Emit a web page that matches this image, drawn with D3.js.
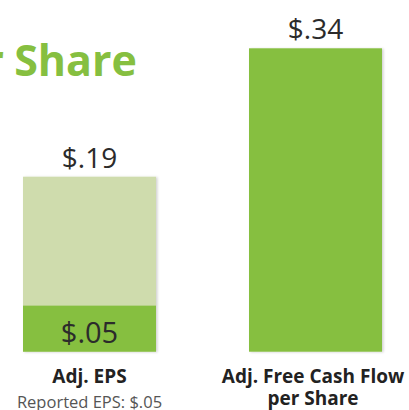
<!DOCTYPE html>
<html lang="en">
<head>
<meta charset="UTF-8" />
<title>Per Share</title>
<script src="https://cdn.jsdelivr.net/npm/d3@7"></script>
<style>
  body { margin: 0; background: #fff; }
  svg { display: block; }
</style>
</head>
<body>
<script>
    // data
    var categories = ["Adj. EPS", "Adj. Free Cash Flow per Share"];
    var adjValues = [0.19, 0.34];
    var reportedValues = [0.05, null];
    var subLabels = ["Reported EPS: $.05", ""];
    var titleText = "per Share";

    var w = 409, h = 410;
    var svg = d3.select("body").append("svg")
        .attr("width", w).attr("height", h);

    var defs = svg.append("defs");
    var f = defs.append("filter").attr("id", "sh")
        .attr("x", "-5%").attr("y", "-5%").attr("width", "112%").attr("height", "112%");
    f.append("feDropShadow").attr("dx", 1.5).attr("dy", 0.5)
        .attr("stdDeviation", 0.8).attr("flood-color", "#000").attr("flood-opacity", 0.18);

    // title (runs off the left edge, as in the slide)
    svg.append("text")
        .attr("x", 137).attr("y", 76)
        .attr("text-anchor", "end")
        .attr("font-family", "'Open Sans', sans-serif")
        .attr("font-weight", "bold")
        .attr("font-size", 43)
        .attr("word-spacing", -1)
        .attr("fill", "#86bf40")
        .text(titleText);

    var baseY = 351.7;
    // each bar sits in its own panel, with its own scale
    var tops = [176.7, 48.3];
    var yScales = adjValues.map(function(v, i) {
        return d3.scaleLinear().domain([0, v]).range([baseY, tops[i]]);
    });

    var bw = 133;
    var xs = [23, 249];
    var font = "'Open Sans', sans-serif";
    var fmt = function(v) { return "$" + d3.format(".2f")(v).replace(/^0/, ""); };

    var gs = svg.selectAll(".bar").data(categories).enter().append("g");

    gs.append("rect")
        .attr("x", function(d, i) { return xs[i]; })
        .attr("y", function(d, i) { return yScales[i](adjValues[i]); })
        .attr("width", bw)
        .attr("height", function(d, i) { return baseY - yScales[i](adjValues[i]); })
        .attr("fill", function(d, i) { return i === 0 ? "#cfdcad" : "#86bf40"; })
        .attr("filter", "url(#sh)");

    svg.append("rect")
        .attr("x", xs[0])
        .attr("y", yScales[0](reportedValues[0]))
        .attr("width", bw)
        .attr("height", baseY - yScales[0](reportedValues[0]))
        .attr("fill", "#86bf40");

    // value labels
    gs.append("text")
        .attr("x", function(d, i) { return xs[i] + bw / 2; })
        .attr("y", function(d, i) { return yScales[i](adjValues[i]) - 9; })
        .attr("text-anchor", "middle")
        .attr("font-family", font)
        .attr("font-size", 28)
        .attr("fill", "#2b2b2b")
        .text(function(d, i) { return fmt(adjValues[i]); });

    svg.append("text")
        .attr("x", xs[0] + bw / 2)
        .attr("y", 343)
        .attr("text-anchor", "middle")
        .attr("font-family", font)
        .attr("font-size", 29)
        .attr("fill", "#2b2b2b")
        .text(fmt(reportedValues[0]));

    // category labels
    svg.append("text")
        .attr("x", xs[0] + bw / 2).attr("y", 383)
        .attr("text-anchor", "middle")
        .attr("font-family", font)
        .attr("font-weight", "bold").attr("font-size", 19)
        .attr("fill", "#222")
        .text(categories[0]);
    svg.append("text")
        .attr("x", xs[0] + bw / 2).attr("y", 408)
        .attr("text-anchor", "middle")
        .attr("font-family", font)
        .attr("font-size", 16.5)
        .attr("fill", "#555")
        .text(subLabels[0]);

    var lines = ["Adj. Free Cash Flow", "per Share"];
    svg.append("text")
        .attr("text-anchor", "middle")
        .attr("font-family", font)
        .attr("font-weight", "bold").attr("font-size", 19)
        .attr("fill", "#222")
        .selectAll("tspan").data(lines).enter().append("tspan")
        .attr("x", 313)
        .attr("y", function(d, i) { return 383 + i * 22; })
        .text(function(d) { return d; });
</script>
</body>
</html>
